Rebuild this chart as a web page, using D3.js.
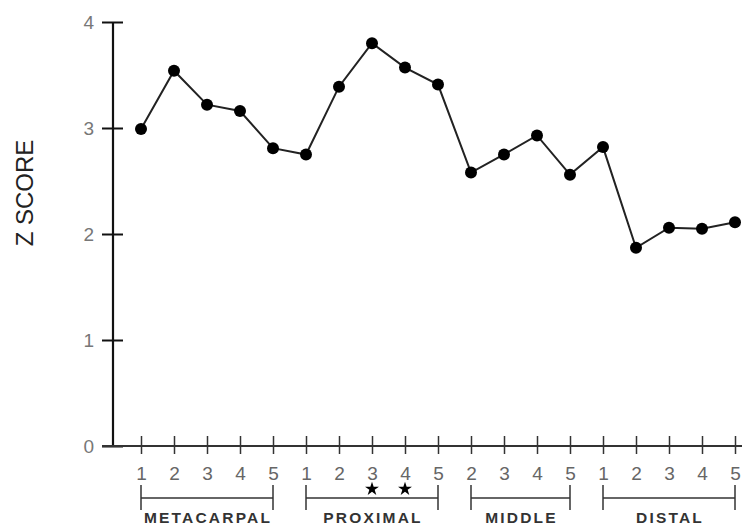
<!DOCTYPE html>
<html>
<head>
<meta charset="utf-8">
<script src="https://cdn.jsdelivr.net/npm/d3@7"></script>
<style>
  html, body { margin: 0; padding: 0; background: #fff; }
  svg { display: block; }
</style>
</head>
<body>
<svg id="chart" width="742" height="531"></svg>
<script>
// ---- data ----
const tickLabels = ["1","2","3","4","5","1","2","3","4","5","2","3","4","5","1","2","3","4","5"];
const zScores = [2.99, 3.54, 3.22, 3.16, 2.81, 2.75, 3.39, 3.80, 3.57, 3.41, 2.58, 2.75, 2.93, 2.56, 2.82, 1.87, 2.06, 2.05, 2.11];
const groupNames = ["METACARPAL", "PROXIMAL", "MIDDLE", "DISTAL"];
const groupStart = [0, 5, 10, 14];
const groupEnd = [4, 9, 13, 18];
const starred = [7, 8];
const yTicks = [0, 1, 2, 3, 4];

// ---- layout ----
const svg = d3.select("#chart");
const x = d3.scaleLinear().domain([0, 18]).range([141, 735]);
const y = d3.scaleLinear().domain([0, 4]).range([446, 22]);
const axisX0 = 113;
const font = "Liberation Sans, Arial, sans-serif";

// y axis
const yAxis = d3.axisLeft(y).tickValues(yTicks).tickFormat(d3.format("d")).tickSize(11).tickPadding(6);
const gy = svg.append("g").attr("transform", `translate(${axisX0},0)`).call(yAxis);
gy.select(".domain").remove();
gy.selectAll(".tick line").attr("x1", 10).attr("x2", -11).attr("stroke", "#111").attr("stroke-width", 2);
gy.selectAll(".tick text").attr("font-family", font)
  .attr("font-size", 19).attr("fill", "#777").attr("x", -19);
svg.append("line").attr("x1", axisX0).attr("x2", axisX0)
  .attr("y1", y(4)).attr("y2", y(0)).attr("stroke", "#111").attr("stroke-width", 2.2);

// x axis
const xAxis = d3.axisBottom(x).tickValues(d3.range(tickLabels.length))
  .tickFormat(i => tickLabels[i]).tickSize(8).tickPadding(14);
const gx = svg.append("g").attr("transform", `translate(0,${y(0)})`).call(xAxis);
gx.select(".domain").remove();
gx.selectAll(".tick line").attr("y1", -10).attr("y2", 8).attr("stroke", "#333").attr("stroke-width", 1.5);
gx.selectAll(".tick text").attr("font-family", font)
  .attr("font-size", 19).attr("fill", "#666").attr("dy", "0.62em");
svg.append("line").attr("x1", 102).attr("x2", 742)
  .attr("y1", y(0)).attr("y2", y(0)).attr("stroke", "#333").attr("stroke-width", 1.8);

// stars
svg.selectAll(".star").data(starred).enter().append("path")
  .attr("d", d3.symbol().type(d3.symbolStar).size(60))
  .attr("transform", d => `translate(${x(d)},489)`)
  .attr("fill", "#000");

// group brackets
const groups = groupNames.map((n, i) => ({ name: n, s: groupStart[i], e: groupEnd[i] }));
const gb = svg.selectAll(".grp").data(groups).enter().append("g");
gb.append("line").attr("x1", d => x(d.s)).attr("x2", d => x(d.e))
  .attr("y1", 498).attr("y2", 498).attr("stroke", "#333").attr("stroke-width", 1.5);
gb.append("line").attr("x1", d => x(d.s)).attr("x2", d => x(d.s))
  .attr("y1", 485).attr("y2", 510).attr("stroke", "#333").attr("stroke-width", 1.5);
gb.append("line").attr("x1", d => x(d.e)).attr("x2", d => x(d.e))
  .attr("y1", 485).attr("y2", 510).attr("stroke", "#333").attr("stroke-width", 1.5);
gb.append("text").attr("x", d => (x(d.s) + x(d.e)) / 2 + 1).attr("y", 523)
  .attr("text-anchor", "middle").attr("font-family", font)
  .attr("font-size", 15.5).attr("font-weight", "bold").attr("letter-spacing", 2.2)
  .attr("fill", "#333").text(d => d.name);

// y title
svg.append("text").attr("transform", "translate(33,193) rotate(-90)")
  .attr("text-anchor", "middle").attr("font-family", font)
  .attr("font-size", 24).attr("fill", "#222").text("Z SCORE");

// line + points
const line = d3.line().x((d, i) => x(i)).y(d => y(d));
svg.append("path").datum(zScores).attr("d", line)
  .attr("fill", "none").attr("stroke", "#222").attr("stroke-width", 2);
svg.selectAll(".pt").data(zScores).enter().append("circle")
  .attr("cx", (d, i) => x(i)).attr("cy", d => y(d)).attr("r", 6).attr("fill", "#000");
</script>
</body>
</html>
